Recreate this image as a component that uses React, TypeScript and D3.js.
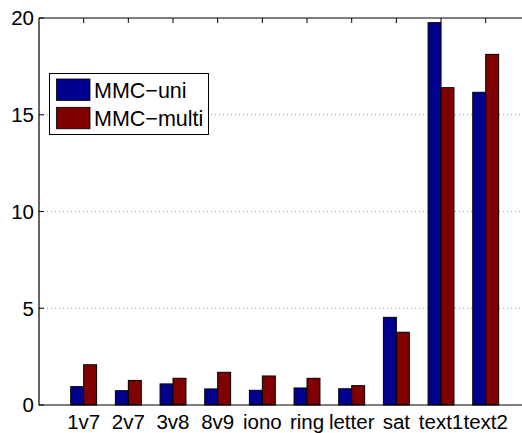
import React, { useEffect, useRef } from "react";
import * as d3 from "d3";

const categories = ["1v7", "2v7", "3v8", "8v9", "iono", "ring", "letter", "sat", "text1", "text2"];
const seriesNames = ["MMC\u2212uni", "MMC\u2212multi"];
const uniValues = [0.95, 0.74, 1.09, 0.83, 0.76, 0.88, 0.84, 4.53, 19.76, 16.16];
const multiValues = [2.08, 1.27, 1.38, 1.69, 1.5, 1.38, 1.0, 3.76, 16.4, 18.12];
const yTicks = [0, 5, 10, 15, 20];
const colors = ["#00008f", "#800000"];

const App = () => {
  const svgRef = useRef<SVGSVGElement>(null);

  useEffect(() => {
    const svg = d3.select(svgRef.current);
    svg.selectAll("*").remove();

    const left = 39;
    const top = 18;
    const bottom = 405;
    const unit = 44.67;

    // x axis in category units, 0..11 like matlab
    const x = d3.scaleLinear().domain([0, 11]).range([left, left + 11 * unit]);
    const y = d3.scaleLinear().domain([0, 20]).range([bottom, top]);
    const right = x(11);
    const font = "'Liberation Sans', Arial, sans-serif";

    // grid
    svg
      .append("g")
      .selectAll("line")
      .data(yTicks.filter((t) => t > 0 && t < 20))
      .enter()
      .append("line")
      .attr("x1", left)
      .attr("x2", right)
      .attr("y1", (d) => y(d))
      .attr("y2", (d) => y(d))
      .attr("stroke", "#9a9a9a")
      .attr("stroke-width", 1)
      .attr("stroke-dasharray", "1,3");

    // bars
    const barW = 0.29;
    const series = [uniValues, multiValues];
    series.forEach((vals, si) => {
      svg
        .append("g")
        .selectAll("rect")
        .data(vals)
        .enter()
        .append("rect")
        .attr("x", (d, i) => x(i + 1 + (si === 0 ? -barW : 0)))
        .attr("y", (d) => y(d))
        .attr("width", x(barW) - x(0))
        .attr("height", (d) => y(0) - y(d))
        .attr("fill", colors[si])
        .attr("stroke", "#000")
        .attr("stroke-width", 1);
    });

    // axes box
    svg
      .append("path")
      .attr("d", `M${left},${top}H${right}M${left},${top}V${bottom}H${right}`)
      .attr("fill", "none")
      .attr("stroke", "#000")
      .attr("stroke-width", 1.2);

    // y ticks (inward)
    const yg = svg.append("g");
    yTicks.forEach((t) => {
      yg.append("line")
        .attr("x1", left)
        .attr("x2", left + 5)
        .attr("y1", y(t))
        .attr("y2", y(t))
        .attr("stroke", "#000");
      yg.append("text")
        .attr("x", left - 5)
        .attr("y", y(t))
        .attr("dy", "0.36em")
        .attr("text-anchor", "end")
        .attr("font-family", font)
        .attr("font-size", 20.5)
        .text(t);
    });

    // x ticks top and bottom (inward)
    const xg = svg.append("g");
    categories.forEach((c, i) => {
      const cx = x(i + 1);
      xg.append("line")
        .attr("x1", cx)
        .attr("x2", cx)
        .attr("y1", top)
        .attr("y2", top + 5)
        .attr("stroke", "#000");
      xg.append("line")
        .attr("x1", cx)
        .attr("x2", cx)
        .attr("y1", bottom)
        .attr("y2", bottom - 5)
        .attr("stroke", "#000");
      xg.append("text")
        .attr("x", cx)
        .attr("y", bottom + 24)
        .attr("text-anchor", "middle")
        .attr("font-family", font)
        .attr("font-size", 20.5)
        .text(c);
    });

    // legend
    const lg = svg.append("g");
    lg.append("rect")
      .attr("x", 49.5)
      .attr("y", 73.5)
      .attr("width", 159)
      .attr("height", 61)
      .attr("fill", "#fff")
      .attr("stroke", "#000")
      .attr("stroke-width", 1);
    seriesNames.forEach((name, i) => {
      const yy = 79 + i * 28.3;
      lg.append("rect")
        .attr("x", 56.5)
        .attr("y", yy)
        .attr("width", 33.5)
        .attr("height", 21.5)
        .attr("fill", colors[i])
        .attr("stroke", "#000")
        .attr("stroke-width", 0.8);
      lg.append("text")
        .attr("x", 94)
        .attr("y", yy + 18.5)
        .attr("font-family", font)
        .attr("font-size", 21.5)
        .text(name);
    });
  }, []);

  return (
    <svg
      ref={svgRef}
      width={522}
      height={433}
      style={{ position: "absolute", left: 0, top: 0, background: "#fff" }}
    ></svg>
  );
};

export default App;
